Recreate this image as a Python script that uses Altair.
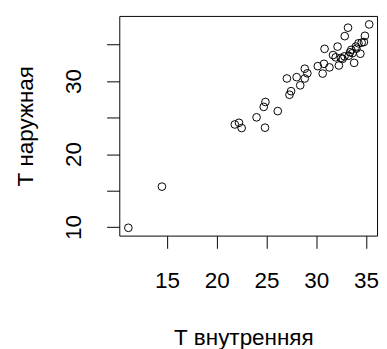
import altair as alt
import pandas as pd

t_inside = [11.10, 14.48, 21.81, 22.23, 22.50, 24.00, 24.85, 24.72, 24.89, 26.13,
            27.31, 27.47, 27.05, 28.03, 28.39, 28.85, 28.85, 29.11, 30.16, 30.65,
            30.78, 30.84, 31.33, 31.69, 32.15, 31.96, 32.28, 32.48, 32.84, 32.87,
            33.20, 33.27, 33.53, 33.66, 33.82, 33.99, 34.25, 34.44, 34.57, 34.80,
            34.90, 35.33, 32.65, 33.40, 34.05]
t_outside = [9.90, 15.54, 24.06, 24.29, 23.57, 25.04, 23.62, 26.47, 27.14, 25.89,
             28.13, 28.62, 30.36, 30.54, 29.42, 30.36, 31.70, 31.07, 32.05, 31.03,
             32.37, 34.42, 31.88, 33.57, 34.73, 33.26, 32.14, 33.17, 33.39, 36.16,
             37.32, 33.48, 34.29, 33.84, 32.50, 34.73, 35.18, 33.75, 35.27, 35.36,
             36.21, 37.77, 33.05, 33.95, 34.45]

x_ticks = [15, 20, 25, 30, 35]
y_ticks = [10, 15, 20, 25, 30, 35]

df = pd.DataFrame({"x": t_inside, "y": t_outside})

FONT = "Liberation Sans"

chart = alt.Chart(df).mark_point(
    shape="circle", filled=False, color="black", size=62, strokeWidth=1, opacity=1
).encode(
    x=alt.X("x:Q",
            scale=alt.Scale(domain=[10.19, 36.12], nice=False, zero=False),
            axis=alt.Axis(values=x_ticks, title="Т внутренняя", grid=False, domain=False,
                          tickSize=13, tickColor="black", labelFontSize=23, labelFont=FONT,
                          labelColor="black", labelPadding=22, labelFlush=False,
                          titleFont=FONT, titleFontSize=23, titleFontWeight="normal",
                          titleColor="black", titleX=127, titleY=105,
                          titleAlign="center", titleBaseline="middle")),
    y=alt.Y("y:Q",
            scale=alt.Scale(domain=[8.83, 38.93], nice=False, zero=False),
            axis=alt.Axis(values=y_ticks, title="Т наружная", grid=False, domain=False,
                          tickSize=13, tickColor="black", labelFontSize=23, labelFont=FONT,
                          labelColor="black", labelAngle=270, labelAlign="center",
                          labelBaseline="bottom", labelPadding=22, labelFlush=False,
                          labelExpr="datum.value % 10 == 0 ? datum.label : ''",
                          titleFont=FONT, titleFontSize=23, titleFontWeight="normal",
                          titleColor="black", titleX=-96, titleY=112.5, titleAngle=270,
                          titleAlign="center", titleBaseline="middle")),
).properties(
    width=264, height=225,
    autosize=alt.AutoSizeParams(type="none"),
    padding={"left": 114, "top": 4, "right": 2, "bottom": 112},
).configure(background="white").configure_view(stroke="black", strokeWidth=1)

chart.save("out.html", embed_options={"renderer": "svg", "actions": False})
